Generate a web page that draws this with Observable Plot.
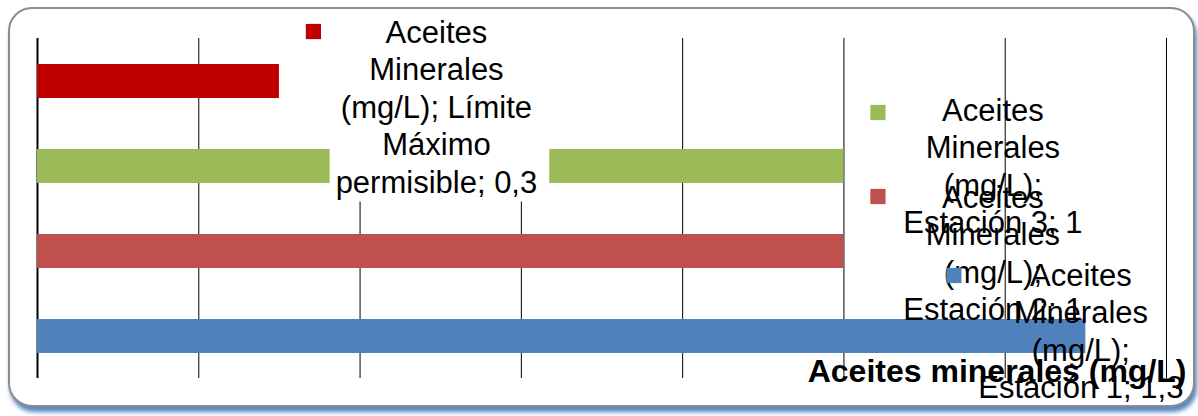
<!DOCTYPE html>
<html><head><meta charset="utf-8">
<script src="https://cdn.jsdelivr.net/npm/d3@7"></script>
<script src="https://cdn.jsdelivr.net/npm/@observablehq/plot@0.6"></script>
<style>
html,body{margin:0;padding:0;background:#fff;}
#wrap{position:relative;width:1198px;height:416px;overflow:hidden;}
#frame{position:absolute;left:8px;top:7px;width:1187px;height:400px;box-sizing:border-box;border:2px solid #8c8c8c;border-radius:24px;box-shadow:2px 5px 4px rgba(79,129,189,0.95);background:#fff;}
#chart{position:absolute;left:0;top:0;}
</style></head><body>
<div id="wrap"><div id="frame"></div><div id="chart"></div></div>
<script>
// ---- data ----
const categories = ["Límite Máximo permisible", "Estación 3", "Estación 2", "Estación 1"];
const values = [0.3, 1, 1, 1.3];
const colors = ["#C00000", "#9BBB59", "#C0504D", "#4F81BD"];
const labels = [
  "Aceites\nMinerales\n(mg/L); Límite\nMáximo\npermisible; 0,3",
  "Aceites\nMinerales\n(mg/L);\nEstación 3; 1",
  "Aceites\nMinerales\n(mg/L);\nEstación 2; 1",
  "Aceites\nMinerales\n(mg/L);\nEstación 1; 1,3"
];
const gridTicks = [0, 0.2, 0.4, 0.6, 0.8, 1.0, 1.2, 1.4];
const title = "Aceites minerales (mg/L)";

// ---- label placement (pixel offsets from bar end) ----
const labelOffsets = [
  {dx: 157, dy: -65.6, kdx: 34, kdy: -50},
  {dx: 149, dy: -72.6, kdx: 34, kdy: -54},
  {dx: 149, dy: -70.6, kdx: 34, kdy: -55},
  {dx: -5,  dy: -77.6, kdx: -132, kdy: -61}
];

const rows = categories.map((c, i) => ({category: c, value: values[i], color: colors[i], label: labels[i]}));
const FONT = "'Liberation Sans', Arial, sans-serif";

const marks = [
  Plot.ruleX(gridTicks, {stroke: "#000", strokeWidth: 1}),
  Plot.ruleX([gridTicks[0]], {stroke: "#000", strokeWidth: 2}),
  Plot.barX(rows, {x: "value", y: "category", fill: "color"})
];
rows.forEach((r, i) => {
  const o = labelOffsets[i];
  marks.push(Plot.text([r], {
    x: "value", y: "category", text: "label",
    dx: o.dx, dy: o.dy, textAnchor: "middle", lineAnchor: "top",
    lineHeight: 37.5 / 31, fontSize: 31, fill: "#000", className: "lbl" + i
  }));
  marks.push(Plot.dot([r], {
    x: "value", y: "category", symbol: "square", r: 8.6,
    fill: "color", stroke: null, dx: o.kdx, dy: o.kdy
  }));
});
marks.push(Plot.text([title], {
  frameAnchor: "bottom-right", text: d => d, textAnchor: "end", lineAnchor: "bottom",
  dx: 20, dy: 3, fontSize: 32, fontWeight: "bold", fill: "#000"
}));

const chart = Plot.plot({
  width: 1198, height: 416,
  marginLeft: 37, marginRight: 32, marginTop: 38, marginBottom: 38,
  style: {background: "transparent", fontFamily: FONT, overflow: "visible"},
  x: {domain: [0, 1.4], axis: null},
  y: {domain: categories, axis: null, paddingInner: 0.6, paddingOuter: 0.3},
  color: {type: "identity"},
  marks
});
document.getElementById("chart").appendChild(chart);

// white fill behind the first data label (as in the original)
const g0 = chart.querySelector(".lbl0");
if (g0) {
  const svgBox = chart.getBoundingClientRect();
  const b = g0.getBoundingClientRect();
  const rect = document.createElementNS("http://www.w3.org/2000/svg", "rect");
  rect.setAttribute("x", b.left - svgBox.left - 6);
  rect.setAttribute("y", b.top - svgBox.top - 2);
  rect.setAttribute("width", b.width + 18);
  rect.setAttribute("height", b.height + 4);
  rect.setAttribute("fill", "#fff");
  g0.parentNode.insertBefore(rect, g0);
}
</script>
</body></html>
